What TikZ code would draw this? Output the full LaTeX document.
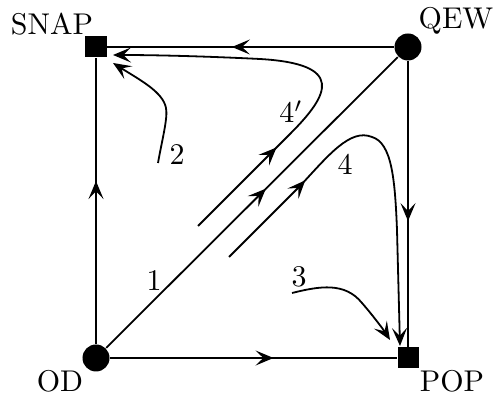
\documentclass[tikz,border=0pt]{standalone}
\usetikzlibrary{arrows.meta,decorations.markings}
\tikzset{mytip/.tip={Stealth[length=6pt,width=5pt,inset=2.6pt]}}
\begin{document}
\begin{tikzpicture}[x=0.3333pt,y=-0.3333pt,line width=0.6pt,
  rnd/.style={circle,fill,inner sep=0pt,minimum size=9pt},
  sq/.style={rectangle,fill,inner sep=0pt,minimum size=7pt},
  lab/.style={inner sep=0pt,anchor=base},
  midarrow/.style={postaction={decorate},decoration={markings,mark=at position #1 with {\arrow{mytip}}}}]
\useasboundingbox (0,0) rectangle (497,396);
\node[rnd] (OD) at (96,358) {};
\node[sq] (SNAP) at (96,47) {};
\node[rnd] (QEW) at (408,47) {};
\node[sq] (POP) at (408,358) {};
\node[lab] (tSNAP) at (52,35) {SNAP};
\node[lab] (tQEW) at (456,29) {QEW};
\node[lab] (tOD) at (60,392) {OD};
\node[lab] (tPOP) at (452,392) {POP};
\node[lab] (n1) at (154,291) {$1$};
\node[lab] (n2) at (177,165) {$2$};
\node[lab] (n3) at (299,287) {$3$};
\node[lab] (n4) at (345,175) {$4$};
\node[lab] (n4p) at (291,123) {$4'$};

\draw[midarrow=0.57] (OD) -- (SNAP);
\draw[midarrow=0.565] (QEW) -- (SNAP);
\draw[midarrow=0.56] (QEW) -- (POP);
\draw[midarrow=0.57] (OD) -- (POP);
\draw[midarrow=0.55] (OD) -- (QEW);

\coordinate (s2) at (158,163); \coordinate (e2) at (113,63);
\coordinate (s3) at (292,293); \coordinate (e3) at (390,340);
\coordinate (s4) at (229,257); \coordinate (e4) at (400,346);
\coordinate (s4p) at (198,226); \coordinate (e4p) at (113,55);

\draw[-{mytip}] (s2) .. controls (162,140) and (168,118) .. (166,108) .. controls (163,92) and (140,80) .. (e2);
\draw[-{mytip}] (s3) .. controls (320,286) and (345,282) .. (362,303) .. controls (375,318) and (385,332) .. (e3);
\draw[-{mytip},midarrow=36pt] (s4) -- (300,186) .. controls (328,156) and (350,128) .. (372,137) .. controls (392,143) and (395,180) .. (397,230) -- (e4);
\draw[-{mytip},midarrow=37pt] (s4p) -- (290,134) .. controls (330,94) and (345,64) .. (260,59) .. controls (200,56) and (150,55) .. (e4p);
\end{tikzpicture}
\end{document}
